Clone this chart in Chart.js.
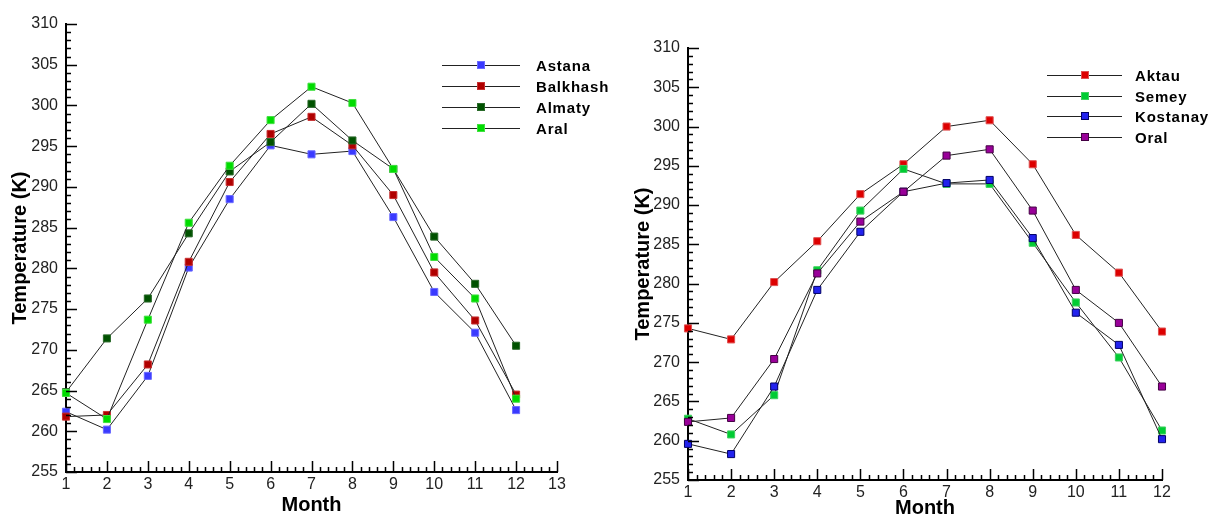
<!DOCTYPE html>
<html>
<head>
<meta charset="utf-8">
<script src="https://cdn.jsdelivr.net/npm/chart.js@4"></script>
<style>
    body { margin: 0; background: #fff; }
    #wrap { position: relative; width: 1210px; height: 518px; overflow: hidden; }
    canvas { position: absolute; top: 0; }
    #leftChart { left: 0; }
    #rightChart { left: 595px; }
</style>
</head>
<body>
<div id="wrap">
    <canvas id="leftChart" width="625" height="518"></canvas>
    <canvas id="rightChart" width="615" height="518"></canvas>
</div>
<script>
const months = [1, 2, 3, 4, 5, 6, 7, 8, 9, 10, 11, 12];

// left panel
const astana   = [262.4, 260.2, 266.8, 280.1, 288.5, 295.1, 294.0, 294.4, 286.3, 277.1, 272.1, 262.6];
const balkhash = [261.8, 262.0, 268.2, 280.8, 290.6, 296.5, 298.6, 295.1, 289.0, 279.5, 273.6, 264.5];
const almaty   = [264.8, 271.4, 276.3, 284.3, 291.9, 295.5, 300.2, 295.7, 292.2, 283.9, 278.1, 270.5];
const aral     = [264.7, 261.5, 273.7, 285.6, 292.6, 298.2, 302.3, 300.3, 292.2, 281.4, 276.3, 264.0];

// right panel
const aktau    = [274.3, 272.9, 280.2, 285.4, 291.4, 295.2, 300.0, 300.8, 295.2, 286.2, 281.4, 273.9];
const semey    = [262.8, 260.8, 265.8, 281.7, 289.3, 294.6, 292.7, 292.7, 285.2, 277.6, 270.6, 261.3];
const kostanay = [259.6, 258.3, 266.9, 279.2, 286.6, 291.7, 292.8, 293.2, 285.8, 276.3, 272.2, 260.2];
const oral     = [262.4, 262.9, 270.4, 281.3, 287.9, 291.7, 296.3, 297.1, 289.3, 279.2, 275.0, 266.9];

const yTicks = { min: 255, max: 310, step: 5 };

function series(label, values, fill, edge, idx) {
    return {
        label: label,
        data: values.map((v, i) => ({ x: months[i], y: v })),
        borderColor: '#222',
        borderWidth: 1,
        pointStyle: 'rect',
        pointRadius: 5,
        pointHoverRadius: 5,
        pointBackgroundColor: fill,
        pointBorderColor: edge,
        pointBorderWidth: 1,
        tension: 0,
        clip: false,
        order: -idx   // later series drawn on top
    };
}

// ticks pointing into the plot, with minor ticks
const inTicks = {
    id: 'inTicks',
    afterDraw(chart) {
        const ctx = chart.ctx;
        const a = chart.chartArea;
        const xs = chart.scales.x, ys = chart.scales.y;
        ctx.save();
        ctx.strokeStyle = '#000';
        ctx.lineWidth = 1.5;
        ctx.beginPath();
        for (let v = ys.min; v <= ys.max + 1e-6; v += 1) {
            const py = Math.round(ys.getPixelForValue(v)) + 0.5;
            const len = Math.round(v) % 5 === 0 ? 11 : 5;
            ctx.moveTo(a.left, py);
            ctx.lineTo(a.left + len, py);
        }
        for (let k = 0; ; k++) {
            const v = xs.min + k * 0.2;
            if (v > xs.max + 1e-6) break;
            const px = Math.round(xs.getPixelForValue(v)) + 0.5;
            const len = Math.abs(v - Math.round(v)) < 1e-6 ? 11 : 5;
            ctx.moveTo(px, a.bottom);
            ctx.lineTo(px, a.bottom - len);
        }
        ctx.stroke();
        ctx.restore();
    }
};

const boxLegend = {
    id: 'boxLegend',
    afterDraw(chart, args, opts) {
        const ctx = chart.ctx;
        ctx.save();
        chart.data.datasets.forEach((ds, i) => {
            const y = Math.round(opts.y + i * opts.gap) + 0.5;
            ctx.strokeStyle = ds.borderColor;
            ctx.lineWidth = 1;
            ctx.beginPath();
            ctx.moveTo(opts.x, y);
            ctx.lineTo(opts.x + opts.len, y);
            ctx.stroke();
            const cx = Math.round(opts.x + opts.len / 2);
            ctx.fillStyle = ds.pointBackgroundColor;
            ctx.fillRect(cx - 3.5, y - 4, 7, 7);
            ctx.strokeStyle = ds.pointBorderColor;
            ctx.strokeRect(cx - 3.5, y - 4, 7, 7);
            ctx.fillStyle = '#000';
            ctx.font = 'bold 15px "Liberation Sans", Arial, sans-serif';
            ctx.letterSpacing = '0.8px';
            ctx.textBaseline = 'middle';
            ctx.fillText(ds.label, opts.x + opts.len + opts.textGap, y + 1);
        });
        ctx.restore();
    }
};

function makeChart(id, datasets, cfg) {
    const tickFont = { family: '"Liberation Sans", Arial, sans-serif', size: 16 };
    const titleFont = { family: '"Liberation Sans", Arial, sans-serif', size: 20, weight: 'bold', lineHeight: 1 };
    return new Chart(document.getElementById(id).getContext('2d'), {
        type: 'line',
        data: { datasets: datasets },
        options: {
            responsive: false,
            animation: false,
            devicePixelRatio: 1,
            layout: { padding: cfg.padding },
            plugins: {
                legend: { display: false },
                tooltip: { enabled: false },
                boxLegend: cfg.legend
            },
            scales: {
                x: {
                    type: 'linear',
                    min: 1,
                    max: cfg.xMax,
                    grid: { display: false, drawTicks: false },
                    border: { display: true, color: '#000', width: 2 },
                    ticks: { stepSize: 1, color: '#222', font: tickFont, padding: 3, maxRotation: 0 },
                    title: { display: true, text: 'Month', color: '#000', font: titleFont, padding: { top: 0, bottom: cfg.monthPad } },
                    afterFit: s => { s.height = cfg.xHeight; }
                },
                y: {
                    min: yTicks.min,
                    max: yTicks.max,
                    grid: { display: false, drawTicks: false },
                    border: { display: true, color: '#000', width: 2 },
                    ticks: { stepSize: yTicks.step, color: '#222', font: tickFont, padding: 8 },
                    title: { display: true, text: 'Temperature (K)', color: '#000', font: titleFont, padding: { top: 0, bottom: 0 } },
                    afterFit: s => { s.width = cfg.yWidth; }
                }
            }
        },
        plugins: [inTicks, boxLegend]
    });
}

makeChart('leftChart', [
    series('Astana', astana, '#3a3aff', '#6a6aff', 0),
    series('Balkhash', balkhash, '#b00000', '#c83030', 1),
    series('Almaty', almaty, '#005200', '#2a6a2a', 2),
    series('Aral', aral, '#00dc00', '#40e040', 3)
], {
    padding: { left: 10, right: 68, top: 24, bottom: 0 },
    yWidth: 56,
    xHeight: 46,
    xMax: 13,
    monthPad: 3,
    legend: { x: 442, len: 78, y: 65, gap: 21, textGap: 16 }
});

makeChart('rightChart', [
    series('Aktau', aktau, '#dd0000', '#e05050', 0),
    series('Semey', semey, '#00cc33', '#40d060', 1),
    series('Kostanay', kostanay, '#2222ee', '#000066', 2),
    series('Oral', oral, '#990099', '#440044', 3)
], {
    padding: { left: 38, right: 48, top: 48, bottom: 0 },
    yWidth: 55,
    xHeight: 38,
    xMax: 12,
    monthPad: 0,
    legend: { x: 452, len: 75, y: 75, gap: 20.5, textGap: 13 }
});
</script>
</body>
</html>
